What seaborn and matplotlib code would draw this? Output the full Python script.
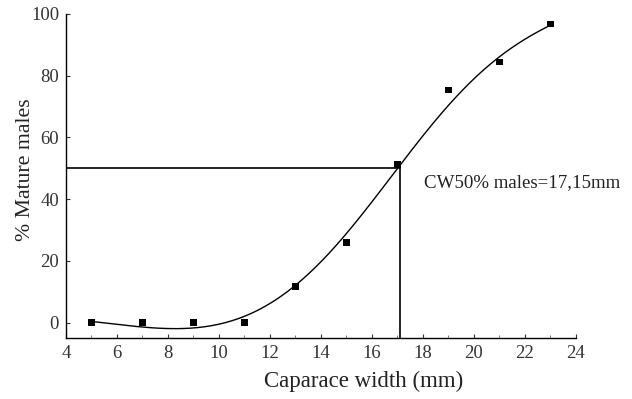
import matplotlib
matplotlib.use("Agg")
import matplotlib.pyplot as plt
import seaborn as sns
import pandas as pd
import numpy as np
from matplotlib.ticker import MultipleLocator

width_mm = [5, 7, 9, 11, 13, 15, 17, 19, 21, 23]
pct_mature = [0, 0, 0, 0, 11.7, 26, 51.3, 75.3, 84.4, 96.8]
cw50 = 17.1
annot_text = "CW50% males=17,15mm"

sns.set_theme(style="white")
plt.rcParams['font.family'] = ['Liberation Serif', 'DejaVu Serif']

df = pd.DataFrame({"x": width_mm, "y": pct_mature})


def local_quadratic(x, y, grid, bw):
    """Distance-weighted local quadratic smoother."""
    x = np.asarray(x, float)
    y = np.asarray(y, float)
    out = []
    for g in grid:
        w = np.exp(-0.5 * ((x - g) / bw) ** 2)
        X = np.vstack([np.ones_like(x), x - g, (x - g) ** 2]).T
        W = np.diag(w)
        beta = np.linalg.lstsq(X.T @ W @ X, X.T @ W @ y, rcond=None)[0]
        out.append(beta[0])
    return np.array(out)


fig = plt.figure(figsize=(6.32, 3.99), dpi=100)
ax = fig.add_axes([0.1044, 0.1529, 0.8066, 0.8121])

sns.scatterplot(data=df, x="x", y="y", marker="s", color="black", s=22,
                edgecolor="none", ax=ax, zorder=3)

grid = np.linspace(min(width_mm), max(width_mm), 200)
fit = local_quadratic(width_mm, pct_mature, grid, 3.1)
sns.lineplot(x=grid, y=fit, color="black", lw=1.0, ax=ax)

ax.plot([4, cw50], [50, 50], color="black", lw=1.2)
ax.plot([cw50, cw50], [-5, 50], color="black", lw=1.2)

ax.text(18.05, 45.5, annot_text, fontsize=13.6, va="center", ha="left",
        color="#222222", clip_on=False)

ax.set_xlim(4, 24)
ax.set_ylim(-5, 100)
ax.set_xticks(range(4, 25, 2))
ax.xaxis.set_minor_locator(MultipleLocator(1))
ax.set_yticks(range(0, 101, 20))

for s in ["top", "right"]:
    ax.spines[s].set_visible(False)
for s in ["left", "bottom"]:
    ax.spines[s].set_color("black")
    ax.spines[s].set_linewidth(1.0)

ax.tick_params(axis="both", which="major", direction="in", length=3,
               width=0.8, color="#333333", labelsize=13.5, labelcolor="#333333",
               left=True, bottom=True)
ax.tick_params(axis="x", which="minor", direction="in", length=2,
               width=0.6, color="#666666", bottom=True)
ax.tick_params(axis="y", pad=5)
ax.tick_params(axis="x", pad=5)

ax.set_xlabel("Caparace width (mm)", fontsize=16.5, color="#222222", va="center")
ax.set_ylabel("% Mature males", fontsize=15.7, color="#222222", va="center")
ax.xaxis.set_label_coords(0.584, -0.133)
ax.yaxis.set_label_coords(-0.080, 0.519)

fig.savefig("out.png", dpi=100)
